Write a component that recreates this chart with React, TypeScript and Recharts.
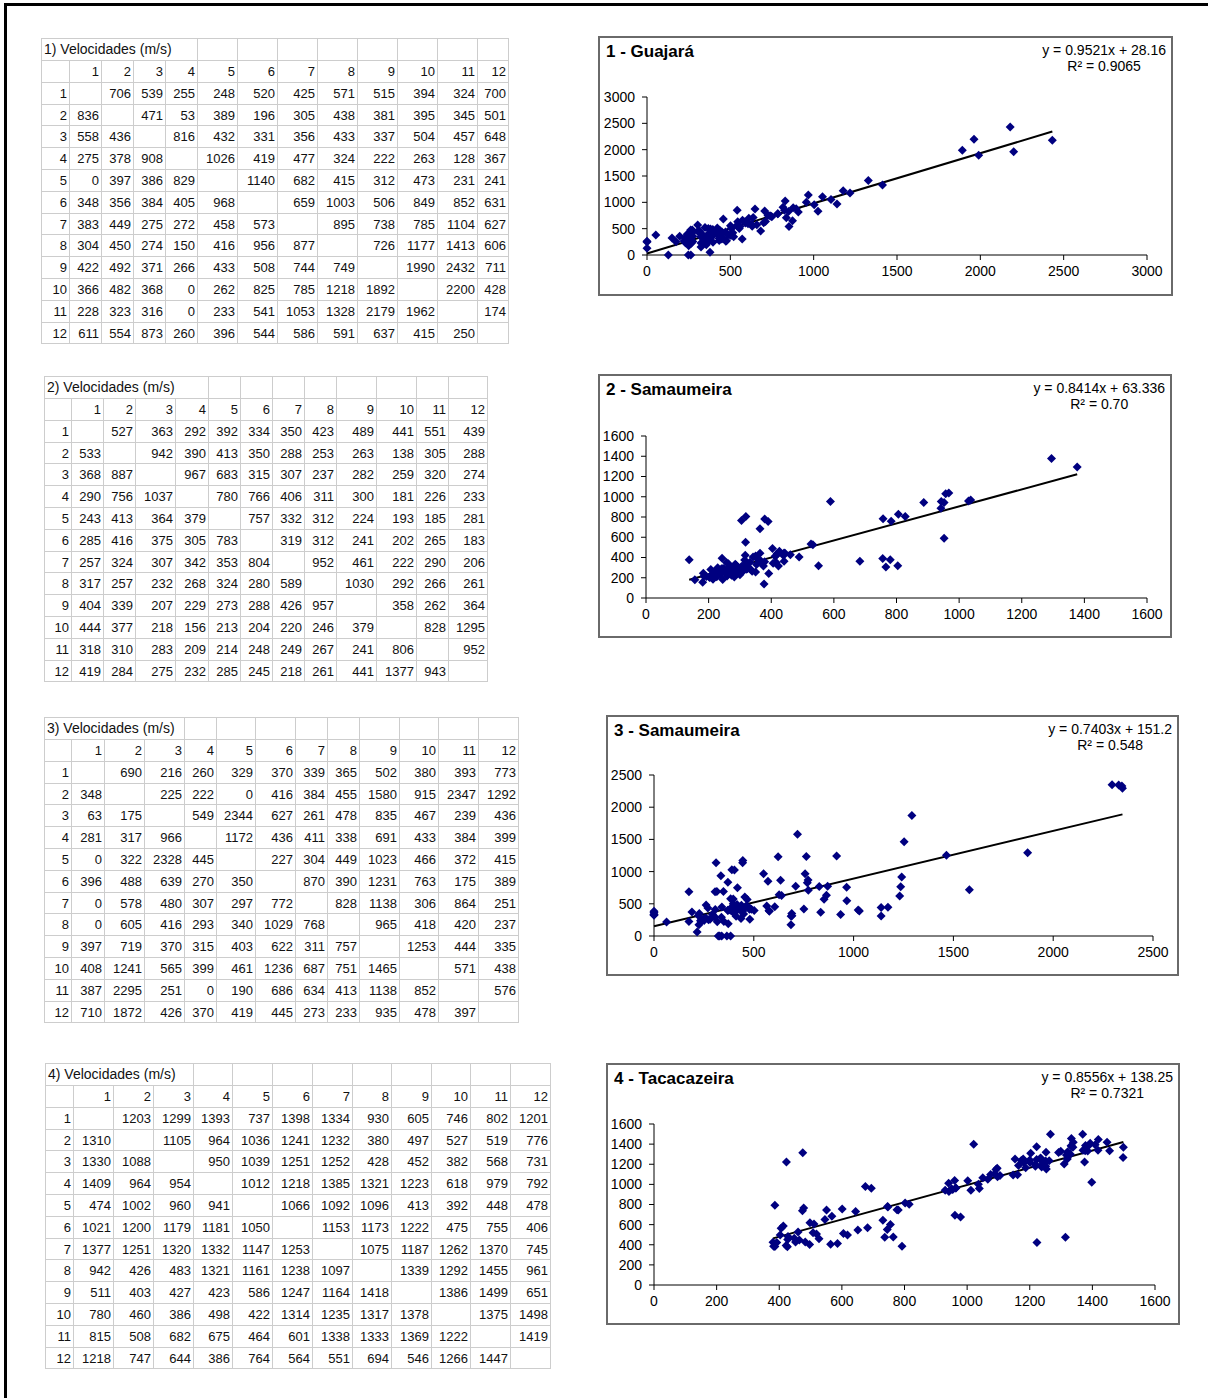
import React from "react";
import {
  ScatterChart,
  Scatter,
  XAxis,
  YAxis,
  ReferenceLine,
} from "recharts";

const FONT = "'Liberation Sans', Arial, sans-serif";

// 1) Guajará
const vel1: (number | null)[][] = [
  [null, 706, 539, 255, 248, 520, 425, 571, 515, 394, 324, 700],
  [836, null, 471, 53, 389, 196, 305, 438, 381, 395, 345, 501],
  [558, 436, null, 816, 432, 331, 356, 433, 337, 504, 457, 648],
  [275, 378, 908, null, 1026, 419, 477, 324, 222, 263, 128, 367],
  [0, 397, 386, 829, null, 1140, 682, 415, 312, 473, 231, 241],
  [348, 356, 384, 405, 968, null, 659, 1003, 506, 849, 852, 631],
  [383, 449, 275, 272, 458, 573, null, 895, 738, 785, 1104, 627],
  [304, 450, 274, 150, 416, 956, 877, null, 726, 1177, 1413, 606],
  [422, 492, 371, 266, 433, 508, 744, 749, null, 1990, 2432, 711],
  [366, 482, 368, 0, 262, 825, 785, 1218, 1892, null, 2200, 428],
  [228, 323, 316, 0, 233, 541, 1053, 1328, 2179, 1962, null, 174],
  [611, 554, 873, 260, 396, 544, 586, 591, 637, 415, 250, null],
];

// 2) Samaumeira
const vel2: (number | null)[][] = [
  [null, 527, 363, 292, 392, 334, 350, 423, 489, 441, 551, 439],
  [533, null, 942, 390, 413, 350, 288, 253, 263, 138, 305, 288],
  [368, 887, null, 967, 683, 315, 307, 237, 282, 259, 320, 274],
  [290, 756, 1037, null, 780, 766, 406, 311, 300, 181, 226, 233],
  [243, 413, 364, 379, null, 757, 332, 312, 224, 193, 185, 281],
  [285, 416, 375, 305, 783, null, 319, 312, 241, 202, 265, 183],
  [257, 324, 307, 342, 353, 804, null, 952, 461, 222, 290, 206],
  [317, 257, 232, 268, 324, 280, 589, null, 1030, 292, 266, 261],
  [404, 339, 207, 229, 273, 288, 426, 957, null, 358, 262, 364],
  [444, 377, 218, 156, 213, 204, 220, 246, 379, null, 828, 1295],
  [318, 310, 283, 209, 214, 248, 249, 267, 241, 806, null, 952],
  [419, 284, 275, 232, 285, 245, 218, 261, 441, 1377, 943, null],
];

// 3) Samaumeira
const vel3: (number | null)[][] = [
  [null, 690, 216, 260, 329, 370, 339, 365, 502, 380, 393, 773],
  [348, null, 225, 222, 0, 416, 384, 455, 1580, 915, 2347, 1292],
  [63, 175, null, 549, 2344, 627, 261, 478, 835, 467, 239, 436],
  [281, 317, 966, null, 1172, 436, 411, 338, 691, 433, 384, 399],
  [0, 322, 2328, 445, null, 227, 304, 449, 1023, 466, 372, 415],
  [396, 488, 639, 270, 350, null, 870, 390, 1231, 763, 175, 389],
  [0, 578, 480, 307, 297, 772, null, 828, 1138, 306, 864, 251],
  [0, 605, 416, 293, 340, 1029, 768, null, 965, 418, 420, 237],
  [397, 719, 370, 315, 403, 622, 311, 757, null, 1253, 444, 335],
  [408, 1241, 565, 399, 461, 1236, 687, 751, 1465, null, 571, 438],
  [387, 2295, 251, 0, 190, 686, 634, 413, 1138, 852, null, 576],
  [710, 1872, 426, 370, 419, 445, 273, 233, 935, 478, 397, null],
];

// 4) Tacacazeira
const vel4: (number | null)[][] = [
  [null, 1203, 1299, 1393, 737, 1398, 1334, 930, 605, 746, 802, 1201],
  [1310, null, 1105, 964, 1036, 1241, 1232, 380, 497, 527, 519, 776],
  [1330, 1088, null, 950, 1039, 1251, 1252, 428, 452, 382, 568, 731],
  [1409, 964, 954, null, 1012, 1218, 1385, 1321, 1223, 618, 979, 792],
  [474, 1002, 960, 941, null, 1066, 1092, 1096, 413, 392, 448, 478],
  [1021, 1200, 1179, 1181, 1050, null, 1153, 1173, 1222, 475, 755, 406],
  [1377, 1251, 1320, 1332, 1147, 1253, null, 1075, 1187, 1262, 1370, 745],
  [942, 426, 483, 1321, 1161, 1238, 1097, null, 1339, 1292, 1455, 961],
  [511, 403, 427, 423, 586, 1247, 1164, 1418, null, 1386, 1499, 651],
  [780, 460, 386, 498, 422, 1314, 1235, 1317, 1378, null, 1375, 1498],
  [815, 508, 682, 675, 464, 601, 1338, 1333, 1369, 1222, null, 1419],
  [1218, 747, 644, 386, 764, 564, 551, 694, 546, 1266, 1447, null],
];

const tableTitles = [
  "1) Velocidades (m/s)",
  "2) Velocidades (m/s)",
  "3) Velocidades (m/s)",
  "4) Velocidades (m/s)",
];
const chartTitles = ["1 - Guajará", "2 - Samaumeira", "3 - Samaumeira", "4 - Tacacazeira"];
const equations = [
  "y = 0.9521x + 28.16",
  "y = 0.8414x + 63.336",
  "y = 0.7403x + 151.2",
  "y = 0.8556x + 138.25",
];
const r2Labels = ["R² = 0.9065", "R² = 0.70", "R² = 0.548", "R² = 0.7321"];
const slopes = [0.9521, 0.8414, 0.7403, 0.8556];
const intercepts = [28.16, 63.336, 151.2, 138.25];

const ticks1 = [0, 500, 1000, 1500, 2000, 2500, 3000];
const ticks2 = [0, 200, 400, 600, 800, 1000, 1200, 1400, 1600];
const ticks3 = [0, 500, 1000, 1500, 2000, 2500];
const ticks4 = [0, 200, 400, 600, 800, 1000, 1200, 1400, 1600];

// table layout
const ROW_H = 21.8;
const tables = [
  { data: vel1, left: 41, top: 38.3, widths: [28, 32, 32, 32, 32, 40, 40, 40, 40, 40, 40, 40, 31], span: 5 },
  { data: vel2, left: 44, top: 376.3, widths: [27, 32, 32, 40, 33, 32, 32, 32, 32, 40, 40, 32, 39], span: 5 },
  { data: vel3, left: 44, top: 717.3, widths: [27, 33, 40, 40, 32, 39, 40, 32, 32, 40, 39, 40, 40], span: 4 },
  { data: vel4, left: 45, top: 1063.3, widths: [28, 40, 40, 40, 39, 40, 40, 40, 39, 40, 39, 40, 40], span: 4 },
];

// chart layout: box + plot offsets inside box
const charts = [
  { data: vel1, ticks: ticks1, box: { x: 598, y: 36, w: 575, h: 260 }, m: { l: 49, r: 26, t: 61, b: 41 } },
  { data: vel2, ticks: ticks2, box: { x: 598, y: 374, w: 574, h: 264 }, m: { l: 48, r: 25, t: 62, b: 40 } },
  { data: vel3, ticks: ticks3, box: { x: 606, y: 715, w: 573, h: 261 }, m: { l: 48, r: 26, t: 60, b: 40 } },
  { data: vel4, ticks: ticks4, box: { x: 606, y: 1063, w: 574, h: 262 }, m: { l: 48, r: 25, t: 61, b: 40 } },
];

// pairs (v[i][j], v[j][i]) for each station couple
function toPairs(m: (number | null)[][]) {
  const out: { x: number; y: number }[] = [];
  for (let i = 0; i < m.length; i++) {
    for (let j = 0; j < m.length; j++) {
      const a = m[i][j];
      const b = m[j][i];
      if (i !== j && a != null && b != null) out.push({ x: a, y: b });
    }
  }
  return out;
}

const GRID = "#cdcdcd";

function VelTable({ idx }: { idx: number }) {
  const t = tables[idx];
  const lefts: number[] = [];
  let acc = 0;
  t.widths.forEach((w) => {
    lefts.push(acc);
    acc += w;
  });
  const total = acc;
  const cells: React.ReactNode[] = [];
  const cellStyle = (l: number, tp: number, w: number): React.CSSProperties => ({
    position: "absolute",
    left: l,
    top: tp,
    width: w,
    height: ROW_H,
    boxSizing: "border-box",
    borderRight: `1px solid ${GRID}`,
    borderBottom: `1px solid ${GRID}`,
    lineHeight: `${ROW_H}px`,
    textAlign: "right",
    paddingRight: 2,
    whiteSpace: "nowrap",
  });
  // title row
  const spanW = t.widths.slice(0, t.span).reduce((a, b) => a + b, 0);
  cells.push(
    <div
      key="title"
      style={{ ...cellStyle(0, 0, spanW), textAlign: "left", paddingLeft: 2, fontSize: 14 }}
    >
      {tableTitles[idx]}
    </div>
  );
  for (let c = t.span; c < 13; c++) {
    cells.push(<div key={`t${c}`} style={cellStyle(lefts[c], 0, t.widths[c])} />);
  }
  // header row
  for (let c = 0; c < 13; c++) {
    cells.push(
      <div key={`h${c}`} style={cellStyle(lefts[c], ROW_H, t.widths[c])}>
        {c === 0 ? "" : c}
      </div>
    );
  }
  t.data.forEach((row, r) => {
    const top = ROW_H * (r + 2);
    cells.push(
      <div key={`r${r}`} style={cellStyle(0, top, t.widths[0])}>
        {r + 1}
      </div>
    );
    row.forEach((v, c) => {
      cells.push(
        <div key={`c${r}-${c}`} style={cellStyle(lefts[c + 1], top, t.widths[c + 1])}>
          {v == null ? "" : v}
        </div>
      );
    });
  });
  return (
    <div
      style={{
        position: "absolute",
        left: t.left,
        top: t.top,
        width: total,
        height: ROW_H * 14,
        borderLeft: `1px solid ${GRID}`,
        borderTop: `1px solid ${GRID}`,
        fontFamily: FONT,
        fontSize: 13,
        color: "#111",
      }}
    >
      {cells}
    </div>
  );
}

const Diamond = (props: any) => {
  const { cx, cy } = props;
  if (cx == null || cy == null) return null;
  const r = 4.5;
  return (
    <polygon
      points={`${cx},${cy - r} ${cx + r},${cy} ${cx},${cy + r} ${cx - r},${cy}`}
      fill="#000080"
    />
  );
};

function VelChart({ idx }: { idx: number }) {
  const c = charts[idx];
  const pts = toPairs(c.data);
  const xs = pts.map((p) => p.x);
  const x0 = Math.min(...xs);
  const x1 = Math.max(...xs);
  const a = slopes[idx];
  const b = intercepts[idx];
  const max = c.ticks[c.ticks.length - 1];
  const tickStyle = { fill: "#000", fontSize: 14, fontFamily: FONT };
  return (
    <>
      <div
        style={{
          position: "absolute",
          left: c.box.x,
          top: c.box.y,
          width: c.box.w,
          height: c.box.h,
          boxSizing: "border-box",
          border: "2px solid #6a6a6a",
        }}
      />
      <div style={{ position: "absolute", left: c.box.x, top: c.box.y }}>
        <ScatterChart
          width={c.box.w}
          height={c.box.h}
          margin={{ top: c.m.t, right: c.m.r, left: 0, bottom: 0 }}
        >
          <XAxis
            type="number"
            dataKey="x"
            domain={[0, max]}
            ticks={c.ticks}
            interval={0}
            height={c.m.b}
            axisLine={{ stroke: "#000" }}
            tickLine={{ stroke: "#000" }}
            tickSize={5}
            tickMargin={6}
            tick={tickStyle}
          />
          <YAxis
            type="number"
            dataKey="y"
            domain={[0, max]}
            ticks={c.ticks}
            interval={0}
            width={c.m.l}
            axisLine={{ stroke: "#000" }}
            tickLine={{ stroke: "#000" }}
            tickSize={5}
            tickMargin={7}
            tick={tickStyle}
          />
          <Scatter data={pts} shape={<Diamond />} isAnimationActive={false} />
          <ReferenceLine
            segment={[
              { x: x0, y: a * x0 + b },
              { x: x1, y: a * x1 + b },
            ]}
            stroke="#000"
            strokeWidth={2}
          />
        </ScatterChart>
      </div>
      <div
        style={{
          position: "absolute",
          left: c.box.x + 8,
          top: c.box.y + 6,
          fontFamily: FONT,
          fontSize: 17,
          fontWeight: "bold",
          lineHeight: "20px",
          color: "#000",
          whiteSpace: "nowrap",
        }}
      >
        {chartTitles[idx]}
      </div>
      <div
        style={{
          position: "absolute",
          right: 1208 - (c.box.x + c.box.w) + 7,
          top: c.box.y + 6,
          fontFamily: FONT,
          fontSize: 14,
          lineHeight: "16px",
          color: "#000",
          textAlign: "center",
          whiteSpace: "nowrap",
        }}
      >
        <div>{equations[idx]}</div>
        <div>{r2Labels[idx]}</div>
      </div>
    </>
  );
}

export default function App() {
  return (
    <div
      style={{
        position: "absolute",
        left: 0,
        top: 0,
        width: 1208,
        height: 1398,
        background: "#fff",
        overflow: "hidden",
      }}
    >
      <div
        style={{
          position: "absolute",
          left: 4,
          top: 3,
          width: 1220,
          height: 1420,
          borderLeft: "3px solid #000",
          borderTop: "3px solid #000",
        }}
      />
      {[0, 1, 2, 3].map((i) => (
        <VelTable key={`t${i}`} idx={i} />
      ))}
      {[0, 1, 2, 3].map((i) => (
        <VelChart key={`c${i}`} idx={i} />
      ))}
    </div>
  );
}
